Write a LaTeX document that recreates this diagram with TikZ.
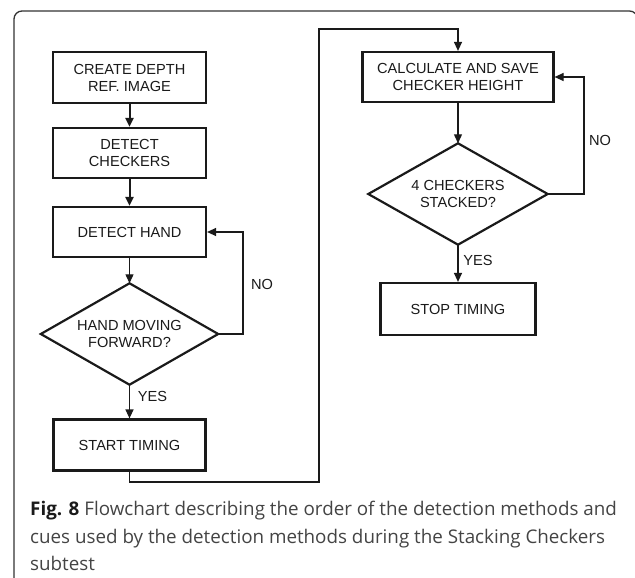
\documentclass[tikz,border=0pt]{standalone}
\usepackage{fontspec}
\setmainfont{Liberation Sans}
\newfontfamily\capfont{Open Sans}
\usetikzlibrary{arrows.meta}
\definecolor{ink}{HTML}{1A1A1A}
\definecolor{framec}{HTML}{333333}
\definecolor{capc}{HTML}{444444}
\tikzset{
  stepbox/.style={draw=ink, line width=2.2pt, rectangle, inner sep=0pt, align=center,
    font=\fontsize{14.6pt}{17pt}\selectfont, text=ink},
  decbox/.style={rectangle, inner sep=0pt, align=center,
    font=\fontsize{14.6pt}{17pt}\selectfont, text=ink},
  decline/.style={draw=ink, line width=2.2pt, line join=miter},
  arr/.style={draw=ink, line width=1.2pt, -{Triangle[length=9pt,width=8pt]}},
  thickarr/.style={draw=ink, line width=2pt, -{Triangle[length=9pt,width=8pt]}},
  lbl/.style={font=\fontsize{14.6pt}{17pt}\selectfont, text=ink, inner sep=0pt},
  capline/.style={anchor=base west, inner sep=0pt, text=capc, font=\capfont\fontsize{18.8pt}{22pt}\selectfont}
}
\begin{document}
\begin{tikzpicture}[x=1pt,y=-1pt]
\useasboundingbox (0,0) rectangle (635,578);
\clip (0,0) rectangle (635,578);
\draw[framec, line width=1.3pt, rounded corners=8pt] (14,11) rectangle (637.5,590);

% left column
\node[stepbox, minimum width=153pt, minimum height=51pt] (b1) at (129.5,77.5) {CREATE DEPTH\\REF. IMAGE};
\node[stepbox, minimum width=153pt, minimum height=50pt] (b2) at (129.5,153) {DETECT\\CHECKERS};
\node[stepbox, minimum width=153pt, minimum height=50pt] (b3) at (129.5,232) {DETECT HAND};
\node[decbox, minimum width=177pt, minimum height=101pt] (d1) at (129.5,334) {HAND MOVING\\FORWARD?};
\draw[decline] (d1.north) -- (d1.east) -- (d1.south) -- (d1.west) -- cycle;
\node[stepbox, minimum width=152pt, minimum height=51pt] (b4) at (129.5,445) {START TIMING};

% right column
\node[stepbox, minimum width=191pt, minimum height=50pt] (b5) at (458,77) {CALCULATE AND SAVE\\CHECKER HEIGHT};
\node[decbox, minimum width=179pt, minimum height=101pt] (d2) at (458,194) {4 CHECKERS\\STACKED?};
\draw[decline] (d2.north) -- (d2.east) -- (d2.south) -- (d2.west) -- cycle;
\node[stepbox, minimum width=155pt, minimum height=52pt] (b6) at (458,309) {STOP TIMING};

\coordinate (c1) at (319,482);
\coordinate (c2) at (319,29);
\coordinate (n1) at (243,334);
\coordinate (n2) at (584,194);

\draw[thickarr] (b1) -- (b2);
\draw[thickarr] (b2) -- (b3);
\draw[arr] (b3) -- (d1.north);
\draw[arr] (d1.east) -- (n1) |- (b3.east);
\draw[arr] (d1.south) -- (b4);
\draw[arr] (b4.south) |- (c1) -- (c2) -| (b5.north);
\draw[arr] (b5) -- (d2.north);
\draw[arr] (d2.east) -- (n2) |- (b5.east);
\draw[arr] (d2.south) -- (b6);

\node[lbl] (no1) at (262,284) {NO};
\node[lbl] (yes1) at (152.5,396) {YES};
\node[lbl] (no2) at (600,140) {NO};
\node[lbl] (yes2) at (478,260) {YES};

\node[capline] (cap1) at (30,515) {{\bfseries\color{ink}Fig. 8} Flowchart describing the order of the detection methods and};
\node[capline] (cap2) at (30,543) {cues used by the detection methods during the Stacking Checkers};
\node[capline] (cap3) at (30,570.5) {subtest};
\end{tikzpicture}
\end{document}
